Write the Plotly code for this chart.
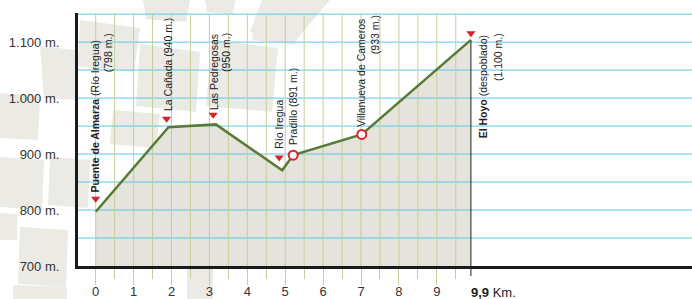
import plotly.graph_objects as go

# ---------------- data ----------------
profile_km = [0, 1.92, 3.17, 4.92, 5.21, 7.02, 9.9]
profile_elev = [797, 948, 953, 871, 898, 935, 1104]

tri_names = ["Puente de Almarza", "La Cañada", "Las Pedregosas", "Río Iregua", "El Hoyo"]
tri_km = [0, 1.87, 3.10, 4.84, 9.9]
tri_elev = [820, 963, 970, 894, 1116]

circ_names = ["Pradillo", "Villanueva de Cameros"]
circ_km = [5.21, 7.02]
circ_elev = [898, 935]

y_tick_vals = [700, 800, 900, 1000, 1100]
y_tick_text = ["700 m.", "800 m.", "900 m.", "1.000 m.", "1.100 m."]
x_tick_vals = [0, 1, 2, 3, 4, 5, 6, 7, 8, 9]
x_tick_text = ["0", "1", "2", "3", "4", "5", "6", "7", "8", "9"]
end_label = "<b>9,9</b> Km."

# ---------------- layout constants ----------------
W, H = 692, 299
L, R, T, B = 78, 0, 13, 33
PW, PH = W - L - R, H - T - B
X_RANGE = [-0.467, 15.733]
Y_RANGE = [700, 1152]

BLUE = "#5cc6ec"
OLIVE = "#c9cd99"
GREEN = "#587a35"
FILL = "#e4e3dc"
RED = "#d8232a"
TXT = "#333333"
FONT = "Liberation Sans, Arial, sans-serif"

fig = go.Figure()

# background blobs (decorative), pixel polygons -> paper coords
blobs = [
    [(40, 46), (76, 50), (78, 100), (44, 98)],
    [(80, 20), (140, 28), (134, 72), (78, 66)],
    [(140, 44), (200, 52), (196, 112), (136, 106)],
    [(212, 40), (278, 48), (272, 112), (206, 106)],
    [(256, 14), (300, 20), (296, 44), (252, 40)],
    [(113, 110), (160, 114), (156, 148), (110, 144)],
    [(0, 93), (40, 96), (38, 140), (0, 138)],
    [(0, 157), (44, 160), (42, 210), (0, 207)],
    [(50, 157), (90, 160), (88, 208), (48, 205)],
    [(20, 227), (68, 230), (66, 287), (18, 284)],
    [(0, 213), (17, 214), (17, 240), (0, 240)],
    [(13, 285), (67, 287), (67, 299), (13, 299)],
    [(187, 268), (213, 268), (213, 299), (187, 299)],
    [(143, 0), (190, 0), (186, 22), (146, 19)],
    [(262, 0), (330, 0), (292, 45), (250, 32)],
    [(205, 0), (235, 0), (233, 14), (207, 12)],
]


def px2paper(px, py):
    return (px - L) / PW, (H - B - py) / PH


shapes = []
for poly in blobs:
    pts = [px2paper(px, py) for px, py in poly]
    path = "M " + " L ".join(f"{x:.4f},{y:.4f}" for x, y in pts) + " Z"
    shapes.append(dict(type="path", path=path, xref="paper", yref="paper",
                       fillcolor="#ebeae4", line=dict(width=0), layer="below"))

# stub of the end line below the axis
shapes.append(dict(type="line", xref="x", yref="paper", x0=profile_km[-1], x1=profile_km[-1],
                   y0=0, y1=-10 / PH, line=dict(color="#222222", width=1)))

# profile fill
fig.add_trace(go.Scatter(x=profile_km, y=profile_elev, mode="lines", fill="tozeroy",
                         fillcolor=FILL, line=dict(width=0, color=FILL), hoverinfo="skip",
                         showlegend=False))

# grid lines drawn above the fill
grid_elev = list(range(750, 1151, 50))
gx, gy = [], []
for e in grid_elev:
    gx += [X_RANGE[0], X_RANGE[1], None]
    gy += [e, e, None]
fig.add_trace(go.Scatter(x=gx, y=gy, mode="lines", line=dict(color=BLUE, width=1),
                         hoverinfo="skip", showlegend=False))
grid_km = [k * 0.5 for k in range(20)]
vx, vy = [], []
for k in grid_km:
    vx += [k, k, None]
    vy += [Y_RANGE[0], 1150, None]
fig.add_trace(go.Scatter(x=vx, y=vy, mode="lines", line=dict(color=OLIVE, width=1),
                         hoverinfo="skip", showlegend=False))

# end vertical line
fig.add_trace(go.Scatter(x=[profile_km[-1], profile_km[-1]], y=[Y_RANGE[0], profile_elev[-1]],
                         mode="lines", line=dict(color="#222222", width=1),
                         hoverinfo="skip", showlegend=False))

# profile line
fig.add_trace(go.Scatter(x=profile_km, y=profile_elev, mode="lines",
                         line=dict(color=GREEN, width=2.5), showlegend=False))

# markers
fig.add_trace(go.Scatter(x=tri_km, y=tri_elev, mode="markers", text=tri_names,
                         marker=dict(symbol="triangle-down", size=8, color=RED),
                         showlegend=False, cliponaxis=False))
fig.add_trace(go.Scatter(x=circ_km, y=circ_elev, mode="markers", text=circ_names,
                         marker=dict(symbol="circle", size=9, color="white",
                                     line=dict(color=RED, width=2)),
                         showlegend=False, cliponaxis=False))

# vertical labels: (text, km, xshift, elev, yanchor)
labels = [
    ("<b>Puente de Almarza</b> (Río Iregua)", 0, -1, 830, "bottom"),
    ("(798 m.)", 0, 12, 1118, "top"),
    ("La Cañada (940 m.)", 1.92, -1, 975, "bottom"),
    ("Las Pedregosas", 3.12, 0, 977, "bottom"),
    ("(950 m.)", 3.12, 12.7, 1118.5, "top"),
    ("Río Iregua", 4.84, -1, 907, "bottom"),
    ("Pradillo (891 m.)", 5.21, 0, 914, "bottom"),
    ("Villanueva de Cameros", 7.02, 0, 946, "bottom"),
    ("(933 m.)", 7.02, 13.5, 1149.5, "top"),
    ("<b>El Hoyo</b> (despoblado)", 9.9, 12.4, 926, "bottom"),
    ("(1.100 m.)", 9.9, 26.4, 1118.5, "top"),
]
annotations = []
for text, km, xs, el, ya in labels:
    annotations.append(dict(text=text, x=km, y=el, xref="x", yref="y", xshift=xs,
                            xanchor="center", yanchor=ya, textangle=-90, showarrow=False,
                            font=dict(family=FONT, size=10.5, color="#222222"),
                            borderpad=0))

annotations.append(dict(text=end_label, x=profile_km[-1], y=-26 / PH, xref="x", yref="paper",
                        xanchor="left", yanchor="middle", xshift=-2, showarrow=False,
                        font=dict(family=FONT, size=13, color="#222222")))

fig.update_layout(
    width=W, height=H,
    margin=dict(l=L, r=R, t=T, b=B, pad=0),
    paper_bgcolor="white", plot_bgcolor="white",
    shapes=shapes, annotations=annotations,
    showlegend=False,
    xaxis=dict(range=X_RANGE, tickvals=x_tick_vals, ticktext=x_tick_text,
               ticks="outside", ticklen=16, tickwidth=1, tickcolor=OLIVE,
               showline=True, linecolor="#1a1a1a", linewidth=2.5,
               showgrid=False, zeroline=False, automargin=False, ticklabelstandoff=-4,
               tickfont=dict(family=FONT, size=13, color=TXT),
               minor=dict(tickvals=[k + 0.5 for k in range(10)], ticks="outside",
                          ticklen=10, tickwidth=1, tickcolor=OLIVE, showgrid=False)),
    yaxis=dict(range=Y_RANGE, tickvals=y_tick_vals, ticktext=y_tick_text,
               ticks="", showline=True, linecolor="#1a1a1a", linewidth=3,
               showgrid=False, zeroline=False, ticklabelstandoff=13, automargin=False,
               tickfont=dict(family=FONT, size=13, color=TXT)),
)

fig.write_html("out.html", config={"displayModeBar": False},
               post_script="document.body.style.margin='0px';")
